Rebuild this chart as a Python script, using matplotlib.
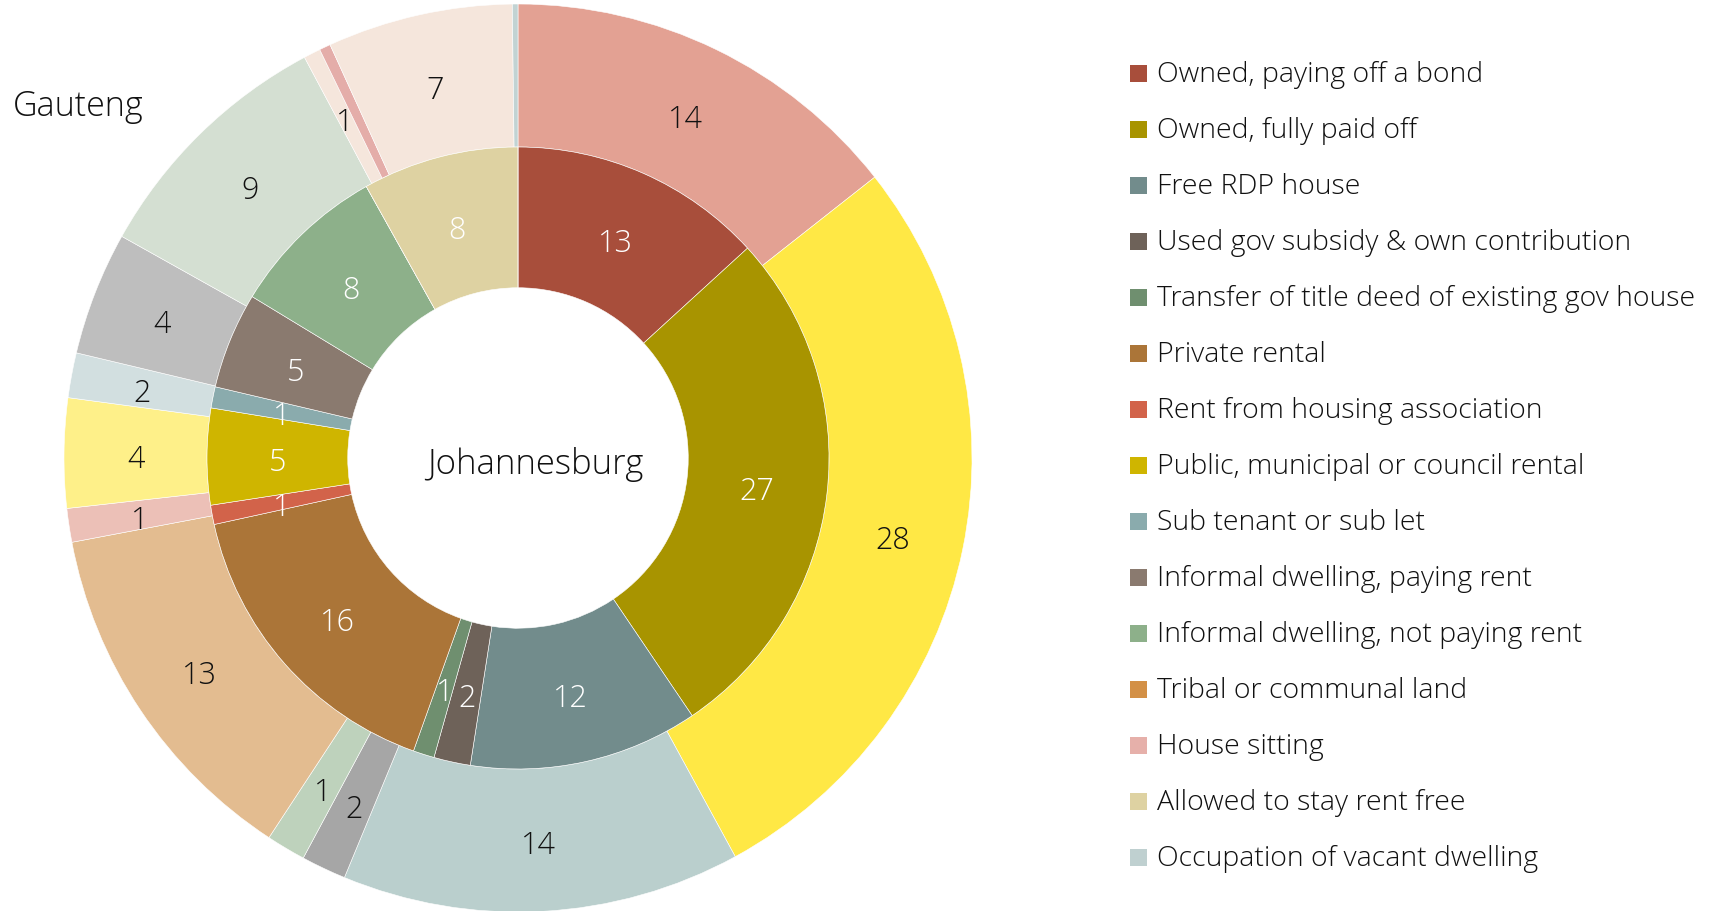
import matplotlib
matplotlib.use("Agg")
import matplotlib.pyplot as plt
import numpy as np
from matplotlib.patches import Rectangle

categories = [
    "Owned, paying off a bond",
    "Owned, fully paid off",
    "Free RDP house",
    "Used gov subsidy & own contribution",
    "Transfer of title deed of existing gov house",
    "Private rental",
    "Rent from housing association",
    "Public, municipal or council rental",
    "Sub tenant or sub let",
    "Informal dwelling, paying rent",
    "Informal dwelling, not paying rent",
    "Tribal or communal land",
    "House sitting",
    "Allowed to stay rent free",
    "Occupation of vacant dwelling",
]
johannesburg = [13.2, 27.3, 11.9, 1.9, 1.1, 16.1, 1.0, 5.0, 1.1, 5.0, 8.2, 0.0, 0.0, 8.1, 0.0]
gauteng = [14.4, 27.7, 14.2, 1.6, 1.4, 12.8, 1.2, 3.9, 1.6, 4.4, 9.1, 0.6, 0.4, 6.6, 0.2]

inner_colors = ["#a84e3b", "#a89400", "#728c8c", "#6e6259", "#6f8f6f", "#ab7538",
                "#d2634a", "#cfb500", "#8aabad", "#8a7a6f", "#8db08a", "#d39046",
                "#e6b0aa", "#ded2a2", "#bfd0d0"]
outer_colors = ["#e3a193", "#ffe845", "#bacfcd", "#a6a6a6", "#bed2bc", "#e3bc90",
                "#ecc0b7", "#fef089", "#d2dfe0", "#bebebe", "#d4dfd2", "#f5e6dc",
                "#e4ada9", "#f5e6dc", "#c2d3d3"]

plt.rcParams['font.family'] = ['Open Sans', 'DejaVu Sans']
FW = 'light'

W, H = 1722, 912
fig = plt.figure(figsize=(W / 100, H / 100), dpi=100)
cx, cy, R = 518, 459, 454
half = 460
ax = fig.add_axes([(cx - half) / W, (H - cy - half) / H, 2 * half / W, 2 * half / H])
lim = half / R

outer_r, outer_w = 1.0, 0.315
inner_r, inner_w = 0.685, 0.31

wo, _ = ax.pie(gauteng, radius=outer_r, colors=outer_colors, startangle=90, counterclock=False,
               wedgeprops=dict(width=outer_w, edgecolor='white', linewidth=0.4))
wi, _ = ax.pie(johannesburg, radius=inner_r, colors=inner_colors, startangle=90, counterclock=False,
               wedgeprops=dict(width=inner_w, edgecolor='white', linewidth=0.4))
ax.set_xlim(-lim, lim)
ax.set_ylim(-lim, lim)
ax.set_aspect('equal')
ax.axis('off')

dy_lab = -0.011

def label(wedges, vals, rmid, color):
    for w, v in zip(wedges, vals):
        n = int(round(v))
        if n < 1:
            continue
        ang = np.deg2rad((w.theta1 + w.theta2) / 2)
        ax.text(rmid * np.cos(ang), rmid * np.sin(ang) + dy_lab, str(n), ha='center', va='center',
                fontsize=22, color=color, fontweight=FW)

label(wo, gauteng, outer_r - outer_w / 2, '#111111')
label(wi, johannesburg, inner_r - inner_w / 2, 'white')

ax.text(0.039, -0.012, "Johannesburg", ha='center', va='center', fontsize=25, color='#111111', fontweight=FW)
fig.text(13 / W, 1 - 107 / H, "Gauteng", ha='left', va='center', fontsize=24.5, color='#111111', fontweight=FW)

# legend
y0, dy = 74, 56
for i, (c, col) in enumerate(zip(categories, inner_colors)):
    y = y0 + i * dy
    fig.patches.append(Rectangle((1130 / W, 1 - (y + 8.5) / H), 17 / W, 17 / H,
                                 transform=fig.transFigure, facecolor=col, edgecolor='none'))
    fig.text(1157 / W, 1 - (y + 1) / H, c, ha='left', va='center', fontsize=20.5, color='#111111', fontweight=FW)

fig.savefig("out.png", dpi=100)
